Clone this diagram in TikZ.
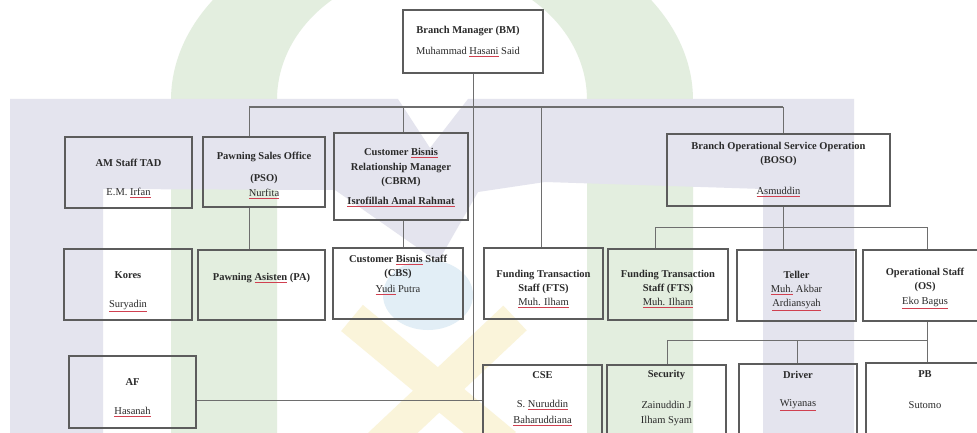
\documentclass[tikz,border=0pt]{standalone}
\usepackage{fontspec}
\setmainfont{Liberation Serif}
\definecolor{lav}{HTML}{E4E4EE}
\definecolor{wgreen}{HTML}{E3EEDF}
\definecolor{wblue}{HTML}{E2EEF6}
\definecolor{wyel}{HTML}{FAF4DA}
\definecolor{boxc}{HTML}{5C5C5C}
\definecolor{linec}{HTML}{6E6E6E}
\definecolor{ulred}{HTML}{D04050}
\definecolor{txt}{HTML}{2A2A2A}
\newcommand\rul[1]{\textcolor{ulred}{\underline{\textcolor{txt}{#1}}}}
\begin{document}
\begin{tikzpicture}[x=1pt,y=-1pt,
  box/.style 2 args={draw=boxc,line width=1.1pt,inner sep=0pt,minimum width=#1pt,minimum height=#2pt},
  ttl/.style={font=\fontsize{10.5}{12}\selectfont\bfseries,text=txt,inner sep=0pt},
  nm/.style={font=\fontsize{10.5}{12}\selectfont,text=txt,inner sep=0pt},
  conn/.style={draw=linec,line width=0.9pt}]
\useasboundingbox (0,0) rectangle (977,433);
\begin{scope}
\clip (0,0) rectangle (977,433);
\fill[white] (0,0) rectangle (977,433);
% watermark
\fill[wgreen,even odd rule] (171,433) -- (171,100) arc[start angle=180,end angle=0,x radius=261pt,y radius=184pt] -- (693,433) -- cycle
  (277,433) -- (277,100) arc[start angle=180,end angle=0,x radius=155pt,y radius=131pt] -- (587,433) -- cycle;
\fill[lav] (10,99) -- (398,99) -- (430,148) -- (468,99) -- (854,99) -- (854,433) -- (763,433) -- (763,189)
  -- (545,182) -- (478,192) -- (438,262) -- (335,190) -- (103,189) -- (103,433) -- (10,433) -- cycle;
\fill[wblue] (428,295) ellipse [x radius=45pt,y radius=35pt];
\draw[wyel,line width=34pt] (352,318) -- (505,445);
\draw[wyel,line width=34pt] (515,318) -- (380,445);

% boxes
\node[box={140}{63}] (bm) at (473,41.5) {};
\node[box={127}{71}] (am) at (128.5,172.5) {};
\node[box={122}{70}] (pso) at (264,172) {};
\node[box={134}{87}] (cbrm) at (401,176.5) {};
\node[box={223}{72}] (boso) at (778.5,170) {};
\node[box={128}{71}] (kores) at (128,284.5) {};
\node[box={127}{70}] (pa) at (261.5,285) {};
\node[box={130}{71}] (cbs) at (398,283.5) {};
\node[box={119}{71}] (fts1) at (543.5,283.5) {};
\node[box={120}{71}] (fts2) at (668,284.5) {};
\node[box={119}{71}] (tel) at (796.5,285.5) {};
\node[box={124}{71}] (os) at (925,285.5) {};
\node[box={127}{72}] (af) at (132.5,392) {};
\node[box={119}{80}] (cse) at (542.5,405) {};
\node[box={119}{80}] (sec) at (666.5,405) {};
\node[box={118}{81}] (drv) at (798,404.5) {};
\node[box={118}{82}] (pb) at (925,404) {};

% texts
\node[ttl] (bm1) at (468,31) {Branch Manager (BM)};
\node[nm] (bm2) at (468,52) {Muhammad \rul{Hasani} Said};
\node[ttl] (am1) at (128.5,163) {AM Staff TAD};
\node[nm] (am2) at (128.5,193) {E.M. \rul{Irfan}};
\node[ttl] (pso1) at (264,157) {Pawning Sales Office};
\node[ttl] (pso2) at (264,179) {(PSO)};
\node[nm] (pso3) at (264,194) {\rul{Nurfita}};
\node[ttl] (cbrm1) at (401,153) {Customer \rul{Bisnis}};
\node[ttl] (cbrm2) at (401,168) {Relationship Manager};
\node[ttl] (cbrm3) at (401,182) {(CBRM)};
\node[ttl] (cbrm4) at (401,202) {\rul{Isrofillah Amal Rahmat}};
\node[ttl] (boso1) at (778.5,147) {Branch Operational Service Operation};
\node[ttl] (boso2) at (778.5,161) {(BOSO)};
\node[nm] (boso3) at (778.5,192) {\rul{Asmuddin}};
\node[ttl] (kores1) at (128,275) {Kores};
\node[nm] (kores2) at (128,306) {\rul{Suryadin}};
\node[ttl] (pa1) at (261.5,278) {Pawning \rul{Asisten} (PA)};
\node[ttl] (cbs1) at (398,260) {Customer \rul{Bisnis} Staff};
\node[ttl] (cbs2) at (398,274) {(CBS)};
\node[nm] (cbs3) at (398,290) {\rul{Yudi} Putra};
\node[ttl] (fa1) at (543.5,275) {Funding Transaction};
\node[ttl] (fa2) at (543.5,289) {Staff (FTS)};
\node[nm] (fa3) at (543.5,303) {\rul{Muh. Ilham}};
\node[ttl] (fb1) at (668,275) {Funding Transaction};
\node[ttl] (fb2) at (668,289) {Staff (FTS)};
\node[nm] (fb3) at (668,303) {\rul{Muh. Ilham}};
\node[ttl] (tel1) at (796.5,275) {Teller};
\node[nm] (tel2) at (796.5,290) {\rul{Muh.} Akbar};
\node[nm] (tel3) at (796.5,305) {\rul{Ardiansyah}};
\node[ttl] (os1) at (925,273) {Operational Staff};
\node[ttl] (os2) at (925,287) {(OS)};
\node[nm] (os3) at (925,303) {\rul{Eko Bagus}};
\node[ttl] (af1) at (132.5,382) {AF};
\node[nm] (af2) at (132.5,412) {\rul{Hasanah}};
\node[ttl] (cse1) at (542.5,375) {CSE};
\node[nm] (cse2) at (542.5,405) {S. \rul{Nuruddin}};
\node[nm] (cse3) at (542.5,421) {\rul{Baharuddiana}};
\node[ttl] (sec1) at (666.5,375) {Security};
\node[nm] (sec2) at (666.5,405) {Zainuddin J};
\node[nm] (sec3) at (666.5,421) {Ilham Syam};
\node[ttl] (drv1) at (798,375) {Driver};
\node[nm] (drv2) at (798,405) {\rul{Wiyanas}};
\node[ttl] (pb1) at (925,374) {PB};
\node[nm] (pb2) at (925,405) {Sutomo};

% connectors
\coordinate (j0) at (473,400);
\draw[conn] (bm.south) -- (j0);
\draw[conn] (af.east |- j0) -- (cse.west |- j0);
\coordinate (b1) at (249,107);
\coordinate (b2) at (403,107);
\coordinate (b3) at (541,107);
\coordinate (b4) at (783,107);
\draw[conn,line width=1.3pt] (b1) -- (b4);
\draw[conn] (b1) -- (b1 |- pso.north);
\draw[conn] (b2) -- (b2 |- cbrm.north);
\draw[conn] (b3) -- (b3 |- fts1.north);
\draw[conn] (b4) -- (b4 |- boso.north);
\draw[conn] (pso.south -| b1) -- (pa.north -| b1);
\draw[conn] (cbrm.south -| b2) -- (cbs.north -| b2);
\coordinate (c0) at (783,227);
\coordinate (c1) at (655,227);
\coordinate (c3) at (927,227);
\draw[conn] (boso.south -| c0) -- (c0);
\draw[conn] (c1) -- (c3);
\draw[conn] (c1) -- (c1 |- fts2.north);
\draw[conn] (c0) -- (c0 |- tel.north);
\draw[conn] (c3) -- (c3 |- os.north);
\coordinate (e0) at (927,340);
\coordinate (e1) at (667,340);
\coordinate (e2) at (797,340);
\draw[conn] (os.south -| e0) -- (e0);
\draw[conn] (e1) -- (e0);
\draw[conn] (e1) -- (e1 |- sec.north);
\draw[conn] (e2) -- (e2 |- drv.north);
\draw[conn] (e0) -- (e0 |- pb.north);
\end{scope}
\end{tikzpicture}
\end{document}
